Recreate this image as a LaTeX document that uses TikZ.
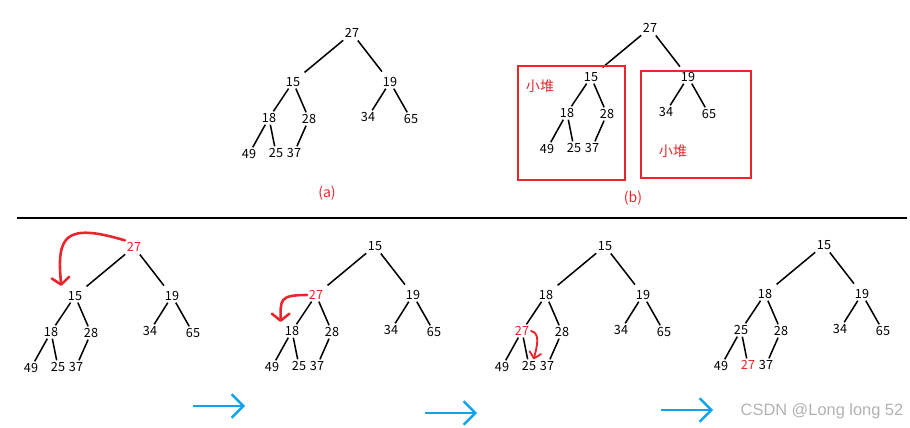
\documentclass[tikz,border=0pt]{standalone}
\usepackage{fontspec}
\setmainfont{Noto Sans CJK SC}
\newfontfamily\markfont{Liberation Sans}
\usetikzlibrary{arrows.meta}
\definecolor{heapred}{RGB}{232,38,44}
\definecolor{stepblue}{RGB}{16,164,236}
\newcommand{\hl}[1]{\textcolor{heapred}{#1}}
% one heap: name prefix, root position, labels r/a/b/.../i
\newcommand{\heap}[3]{%
  \begin{scope}[shift={#2}]
  \foreach \n/\x/\y in {r/0/0,a/-59/49,b/38/49,c/-83/85,d/-43/86,e/16/84,f/59/86,g/-103/121,h/-76/120,i/-58/120}
    {\coordinate (#1p\n) at (\x,\y);}
  \foreach \n/\t in {#3}{\node[num] (#1\n) at (#1p\n) {\t};}
  \foreach \u/\v/\s in {r/a/trunk,r/b/trunk,a/c/branch,a/d/branch,b/e/branch,b/f/branch,c/g/branch,c/h/branch,d/i/branch}
    {\draw[\s] (#1\u) -- (#1\v);}
  \end{scope}}

\begin{document}
\begin{tikzpicture}[x=0.03cm,y=-0.03cm,num/.style={inner sep=1.5pt,font=\fontsize{10.8}{13}\selectfont},branch/.style={line width=1.3pt},trunk/.style={branch,shorten >=4pt,shorten <=1pt},heapbox/.style={draw=heapred,line width=1.3pt},note/.style={text=heapred,font=\fontsize{12}{14}\selectfont},swaparrow/.style={draw=heapred,line width=2.2pt,line cap=round,-{Straight Barb[round,length=6pt,width=15pt]}},nextarrow/.style={stepblue,line width=2pt,-{Straight Barb[length=10pt,width=20pt]}}]
\useasboundingbox (0,0) rectangle (910,428);
% top: (a) and (b)
\heap{ta}{(352,33)}{r/27,a/15,b/19,c/18,d/28,e/34,f/65,g/49,h/25,i/37}
\heap{tb}{(650,28)}{r/27,a/15,b/19,c/18,d/28,e/34,f/65,g/49,h/25,i/37}
\draw[heapbox] (518,66) rectangle (625,180); \draw[heapbox] (641,71) rectangle (751,178);
\node[note] (lsmall) at (540,86) {小堆};
\node[note] (rsmall) at (673,151) {小堆};
\node[note] (capa) at (327,193) {(a)}; \node[note] (capb) at (633,198) {(b)};
\draw[line width=2pt] (17,218) -- (907,218);
% bottom: sift down of 27
\heap{sa}{(134,247)}{r/\hl{27},a/15,b/19,c/18,d/28,e/34,f/65,g/49,h/25,i/37}
\heap{sb}{(375,246)}{r/15,a/\hl{27},b/19,c/18,d/28,e/34,f/65,g/49,h/25,i/37}
\heap{sc}{(605,246)}{r/15,a/18,b/19,c/\hl{27},d/28,e/34,f/65,g/49,h/25,i/37}
\heap{sd}{(824,245)}{r/15,a/18,b/19,c/25,d/28,e/34,f/65,g/49,h/\hl{27},i/37}
\draw[swaparrow] (sar.north west) .. controls +(-60,-18) and +(-5,-50) .. ([xshift=-4pt,yshift=3pt]saa.north west);
\draw[swaparrow] (sba.west) .. controls +(-28,0) and +(0,-22) .. ([xshift=-2pt,yshift=2pt]sbc.north west);
\draw[swaparrow,line width=1.6pt,-{Straight Barb[round,length=5pt,width=10pt]}] (scc.east) .. controls +(10,2) and +(3,-12) .. ([xshift=4pt]sch.north);
\foreach \x/\y in {193/406,425/413,661/410} {\draw[nextarrow] (\x,\y) -- ++(52,0);}
\node[text=black!30,font=\markfont\fontsize{14}{16}\selectfont] (mark) at (822,411) {CSDN @Long long 52};
\end{tikzpicture}
\end{document}
